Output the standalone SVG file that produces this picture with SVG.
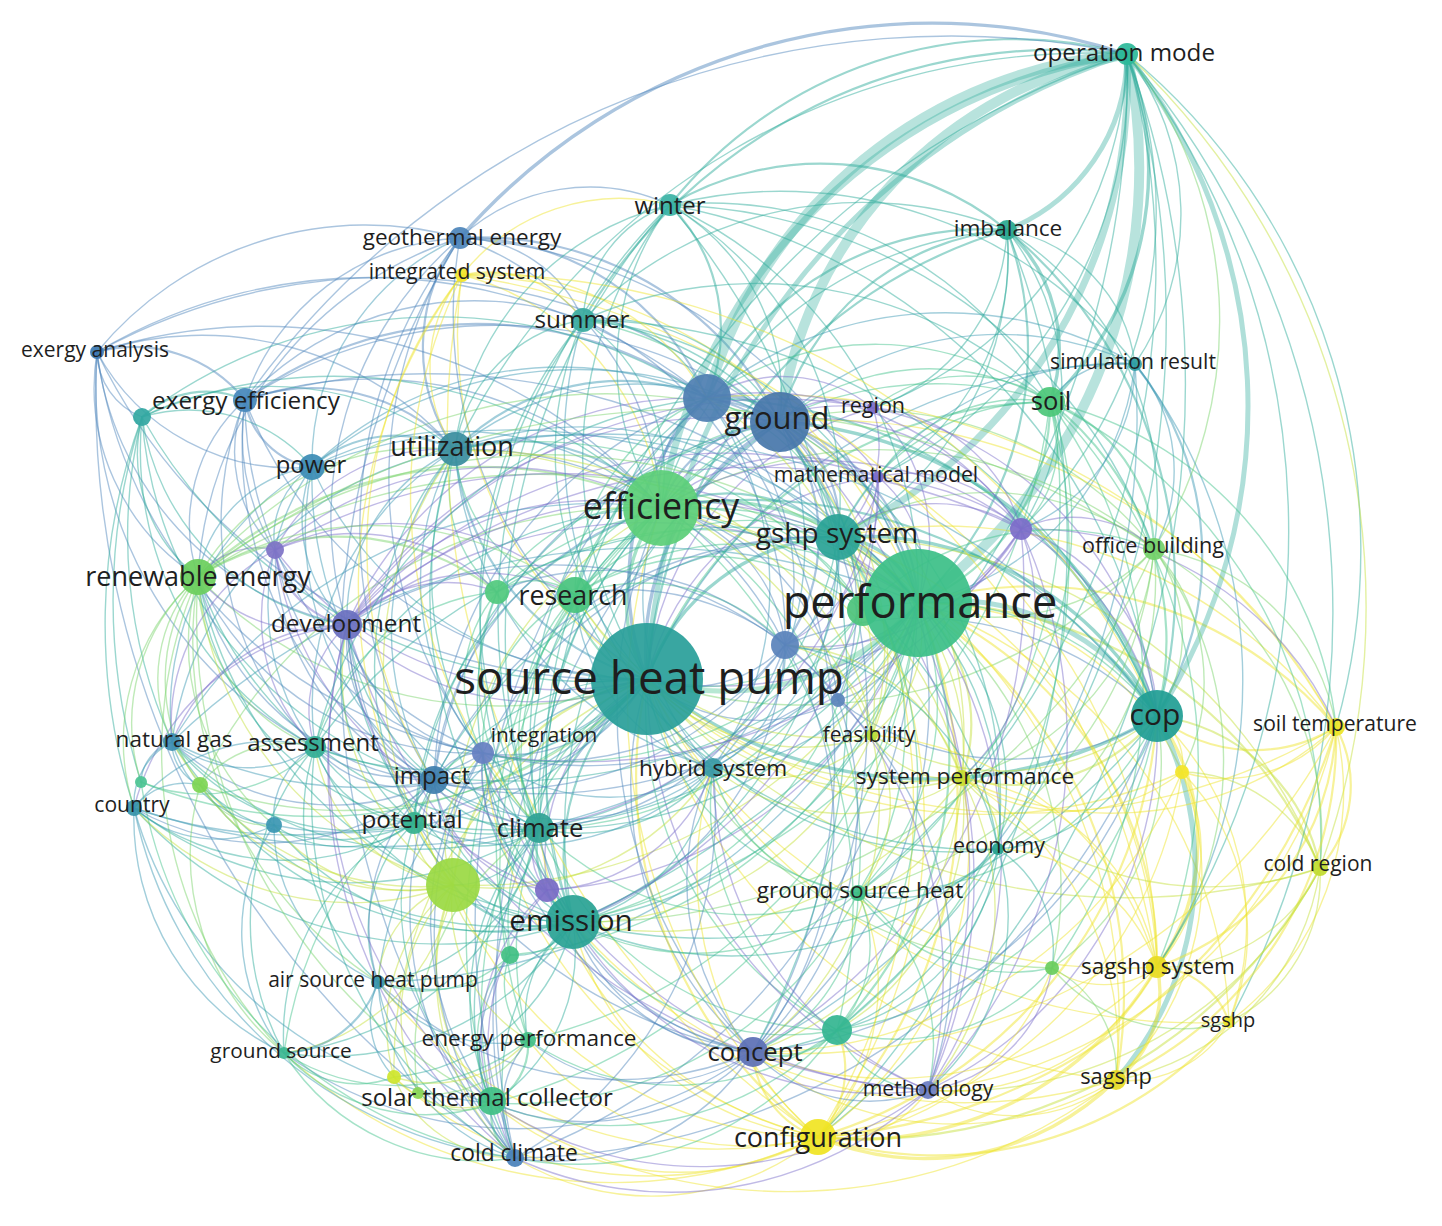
<svg xmlns="http://www.w3.org/2000/svg" width="1442" height="1226" viewBox="0 0 1442 1226">
<style>
.e path{fill:none;stroke-opacity:.48;stroke-width:1.4;stroke-linecap:round}
.p{stroke:#7b6fca}.b{stroke:#4f86bd}.c{stroke:#3d98b3}.t{stroke:#2eac9b}.g{stroke:#43c38b}.l{stroke:#7ad46a}.y{stroke:#c4df3a}.yw{stroke:#efe42c}
.e .s2{stroke-width:2.2}.e .s3{stroke-width:3.4}.e .s4{stroke-width:5;stroke-opacity:.38}.e .s6{stroke-width:7;stroke-opacity:.36}.e .s8{stroke-width:10;stroke-opacity:.34}
.n circle{fill-opacity:.93}
.n text{font-family:"Open Sans","Liberation Sans",sans-serif;fill:#1e1e1e;text-anchor:middle}
</style>
<rect width="1442" height="1226" fill="#ffffff"/>
<g id="connectors" class="e">
<path class="g s4" d="M918 603A256 256 0 0 1 647 679"/>
<path class="g s3" d="M647 679A150 150 0 0 1 661 508"/>
<path class="b s3" d="M647 679A264 264 0 0 1 780 422"/>
<path class="b s3" d="M647 679A259 259 0 0 1 707 398"/>
<path class="t s3" d="M647 679A211 211 0 0 1 838 537"/>
<path class="t s3" d="M1157 716A446 446 0 0 1 647 679"/>
<path class="t s2" d="M573 922A232 232 0 0 1 647 679"/>
<path class="c s2" d="M647 679A262 262 0 0 1 455 450"/>
<path class="g s2" d="M647 679A96 96 0 0 1 575 595"/>
<path class="g" d="M647 679A157 157 0 0 1 497 592"/>
<path class="p" d="M647 679A274 274 0 0 1 347 625"/>
<path class="l" d="M647 679A417 417 0 0 1 198 577"/>
<path class="c" d="M647 679A357 357 0 0 1 312 467"/>
<path class="b" d="M647 679A437 437 0 0 1 245 400"/>
<path class="b" d="M647 679A579 579 0 0 1 97 352"/>
<path class="t" d="M647 679A519 519 0 0 1 142 417"/>
<path class="b" d="M647 679A439 439 0 0 1 460 238"/>
<path class="yw" d="M647 679A406 406 0 0 1 462 275"/>
<path class="t" d="M647 679A327 327 0 0 1 583 320"/>
<path class="t" d="M647 679A411 411 0 0 1 670 205"/>
<path class="t s4" d="M647 679A694 694 0 0 1 1127 54"/>
<path class="t s2" d="M647 679A504 504 0 0 1 1007 230"/>
<path class="p" d="M647 679A307 307 0 0 1 873 408"/>
<path class="p" d="M647 679A265 265 0 0 1 878 477"/>
<path class="g s2" d="M647 679A437 437 0 0 1 1050 402"/>
<path class="c" d="M647 679A522 522 0 0 1 1135 364"/>
<path class="p" d="M1021 529A369 369 0 0 1 647 679"/>
<path class="l" d="M1154 549A475 475 0 0 1 647 679"/>
<path class="g" d="M863 610A207 207 0 0 1 647 679"/>
<path class="b" d="M785 645A129 129 0 0 1 647 679"/>
<path class="b" d="M838 700A169 169 0 0 1 647 679"/>
<path class="yw" d="M1336 727A602 602 0 0 1 647 679"/>
<path class="y" d="M872 735A210 210 0 0 1 647 679"/>
<path class="y" d="M962 778A302 302 0 0 1 647 679"/>
<path class="yw" d="M1182 772A486 486 0 0 1 647 679"/>
<path class="c" d="M713 768A98 98 0 0 1 647 679"/>
<path class="t" d="M998 849A356 356 0 0 1 647 679"/>
<path class="y" d="M1320 868A637 637 0 0 1 647 679"/>
<path class="g" d="M858 893A253 253 0 0 1 647 679"/>
<path class="yw" d="M1157 967A531 531 0 0 1 647 679"/>
<path class="l" d="M1052 968A443 443 0 0 1 647 679"/>
<path class="yw" d="M1229 1022A611 611 0 0 1 647 679"/>
<path class="g" d="M837 1030A363 363 0 0 1 647 679"/>
<path class="b" d="M753 1052A353 353 0 0 1 647 679"/>
<path class="p" d="M928 1090A445 445 0 0 1 647 679"/>
<path class="yw" d="M1116 1080A535 535 0 0 1 647 679"/>
<path class="yw s2" d="M818 1137A447 447 0 0 1 647 679"/>
<path class="b" d="M515 1158A452 452 0 0 1 647 679"/>
<path class="g" d="M492 1103A413 413 0 0 1 647 679"/>
<path class="g" d="M528 1040A348 348 0 0 1 647 679"/>
<path class="g" d="M510 955A281 281 0 0 1 647 679"/>
<path class="p" d="M547 890A213 213 0 0 1 647 679"/>
<path class="y s2" d="M453 885A241 241 0 0 1 647 679"/>
<path class="t" d="M539 828A163 163 0 0 1 647 679"/>
<path class="t" d="M414 823A247 247 0 0 1 647 679"/>
<path class="b" d="M647 679A216 216 0 0 1 434 782"/>
<path class="b" d="M647 679A165 165 0 0 1 483 753"/>
<path class="t" d="M647 679A305 305 0 0 1 315 747"/>
<path class="c" d="M647 679A425 425 0 0 1 172 742"/>
<path class="c" d="M647 679A480 480 0 0 1 134 808"/>
<path class="c" d="M647 679A366 366 0 0 1 274 825"/>
<path class="l" d="M647 679A416 416 0 0 1 200 785"/>
<path class="c" d="M378 982A349 349 0 0 1 647 679"/>
<path class="g" d="M284 1053A441 441 0 0 1 647 679"/>
<path class="y" d="M394 1077A424 424 0 0 1 647 679"/>
<path class="p" d="M647 679A360 360 0 0 1 275 550"/>
<path class="g" d="M647 679A465 465 0 0 1 141 782"/>
<path class="g s3" d="M661 508A251 251 0 0 1 918 603"/>
<path class="b s2" d="M780 422A201 201 0 0 1 918 603"/>
<path class="b s2" d="M707 398A249 249 0 0 1 918 603"/>
<path class="t s3" d="M838 537A90 90 0 0 1 918 603"/>
<path class="t s4" d="M918 603A241 241 0 0 1 1157 716"/>
<path class="t s8" d="M1127 54A538 538 0 0 1 918 603"/>
<path class="t s2" d="M1007 230A348 348 0 0 1 918 603"/>
<path class="g s2" d="M1050 402A216 216 0 0 1 918 603"/>
<path class="c" d="M1135 364A277 277 0 0 1 918 603"/>
<path class="p" d="M873 408A181 181 0 0 1 918 603"/>
<path class="p" d="M878 477A121 121 0 0 1 918 603"/>
<path class="p" d="M1021 529A113 113 0 0 1 918 603"/>
<path class="l" d="M1154 549A219 219 0 0 1 918 603"/>
<path class="b" d="M918 603A128 128 0 0 1 785 645"/>
<path class="b" d="M918 603A110 110 0 0 1 838 700"/>
<path class="yw s2" d="M918 603A398 398 0 0 1 1336 727"/>
<path class="y" d="M918 603A128 128 0 0 1 872 735"/>
<path class="y s2" d="M918 603A164 164 0 0 1 962 778"/>
<path class="yw" d="M918 603A282 282 0 0 1 1182 772"/>
<path class="c" d="M918 603A230 230 0 0 1 713 768"/>
<path class="t" d="M918 603A236 236 0 0 1 998 849"/>
<path class="y s2" d="M918 603A432 432 0 0 1 1320 868"/>
<path class="g" d="M918 603A267 267 0 0 1 858 893"/>
<path class="yw s2" d="M918 603A391 391 0 0 1 1157 967"/>
<path class="l" d="M918 603A356 356 0 0 1 1052 968"/>
<path class="yw" d="M918 603A462 462 0 0 1 1229 1022"/>
<path class="g s2" d="M918 603A390 390 0 0 1 837 1030"/>
<path class="b" d="M918 603A438 438 0 0 1 753 1052"/>
<path class="p" d="M918 603A417 417 0 0 1 928 1090"/>
<path class="yw s2" d="M918 603A473 473 0 0 1 1116 1080"/>
<path class="yw s2" d="M918 603A488 488 0 0 1 818 1137"/>
<path class="t" d="M918 603A402 402 0 0 1 573 922"/>
<path class="t" d="M918 603A399 399 0 0 1 539 828"/>
<path class="b" d="M918 603A609 609 0 0 1 515 1158"/>
<path class="g" d="M918 603A570 570 0 0 1 492 1103"/>
<path class="g" d="M918 603A504 504 0 0 1 528 1040"/>
<path class="y" d="M918 603A491 491 0 0 1 453 885"/>
<path class="b" d="M918 603A473 473 0 0 1 434 782"/>
<path class="b" d="M918 603A421 421 0 0 1 483 753"/>
<path class="t" d="M918 603A503 503 0 0 1 414 823"/>
<path class="g" d="M575 595A294 294 0 0 1 918 603"/>
<path class="g" d="M497 592A361 361 0 0 1 918 603"/>
<path class="c" d="M455 450A445 445 0 0 1 918 603"/>
<path class="t" d="M583 320A381 381 0 0 1 918 603"/>
<path class="t" d="M670 205A422 422 0 0 1 918 603"/>
<path class="b" d="M460 238A513 513 0 0 1 918 603"/>
<path class="yw" d="M462 275A499 499 0 0 1 918 603"/>
<path class="p" d="M347 625A493 493 0 0 1 918 603"/>
<path class="l" d="M198 577A620 620 0 0 1 918 603"/>
<path class="b" d="M245 400A641 641 0 0 1 918 603"/>
<path class="c" d="M312 467A561 561 0 0 1 918 603"/>
<path class="t" d="M918 603A562 562 0 0 1 315 747"/>
<path class="c" d="M172 742A682 682 0 0 1 918 603"/>
<path class="c" d="M918 603A736 736 0 0 1 134 808"/>
<path class="p" d="M275 550A564 564 0 0 1 918 603"/>
<path class="c" d="M918 603A588 588 0 0 1 378 982"/>
<path class="g" d="M918 603A467 467 0 0 1 510 955"/>
<path class="p" d="M918 603A413 413 0 0 1 547 890"/>
<path class="b s2" d="M661 508A130 130 0 0 1 780 422"/>
<path class="b s2" d="M661 508A109 109 0 0 1 707 398"/>
<path class="t s2" d="M661 508A161 161 0 0 1 838 537"/>
<path class="t s2" d="M661 508A492 492 0 0 1 1157 716"/>
<path class="t s6" d="M661 508A551 551 0 0 1 1127 54"/>
<path class="t" d="M661 508A388 388 0 0 1 1007 230"/>
<path class="g" d="M661 508A366 366 0 0 1 1050 402"/>
<path class="c s2" d="M455 450A195 195 0 0 1 661 508"/>
<path class="l s2" d="M198 577A417 417 0 0 1 661 508"/>
<path class="g" d="M575 595A103 103 0 0 1 661 508"/>
<path class="g" d="M497 592A168 168 0 0 1 661 508"/>
<path class="p" d="M347 625A307 307 0 0 1 661 508"/>
<path class="c" d="M312 467A310 310 0 0 1 661 508"/>
<path class="b" d="M245 400A390 390 0 0 1 661 508"/>
<path class="b" d="M97 352A532 532 0 0 1 661 508"/>
<path class="t" d="M142 417A472 472 0 0 1 661 508"/>
<path class="b" d="M460 238A298 298 0 0 1 661 508"/>
<path class="yw" d="M462 275A266 266 0 0 1 661 508"/>
<path class="t" d="M583 320A186 186 0 0 1 661 508"/>
<path class="t" d="M661 508A261 261 0 0 1 670 205"/>
<path class="t" d="M573 922A382 382 0 0 1 661 508"/>
<path class="t" d="M539 828A314 314 0 0 1 661 508"/>
<path class="y" d="M453 885A391 391 0 0 1 661 508"/>
<path class="t" d="M414 823A352 352 0 0 1 661 508"/>
<path class="b" d="M434 782A310 310 0 0 1 661 508"/>
<path class="t" d="M315 747A376 376 0 0 1 661 508"/>
<path class="c" d="M172 742A496 496 0 0 1 661 508"/>
<path class="c" d="M713 768A239 239 0 0 1 661 508"/>
<path class="y" d="M661 508A264 264 0 0 1 872 735"/>
<path class="y" d="M661 508A348 348 0 0 1 962 778"/>
<path class="t" d="M661 508A405 405 0 0 1 998 849"/>
<path class="l" d="M661 508A433 433 0 0 1 1154 549"/>
<path class="p" d="M661 508A313 313 0 0 1 1021 529"/>
<path class="p" d="M661 508A214 214 0 0 1 873 408"/>
<path class="p" d="M661 508A195 195 0 0 1 878 477"/>
<path class="b" d="M753 1052A494 494 0 0 1 661 508"/>
<path class="g" d="M492 1103A564 564 0 0 1 661 508"/>
<path class="g" d="M528 1040A497 497 0 0 1 661 508"/>
<path class="g" d="M661 508A394 394 0 0 1 858 893"/>
<path class="g" d="M661 508A503 503 0 0 1 837 1030"/>
<path class="yw" d="M818 1137A588 588 0 0 1 661 508"/>
<path class="p" d="M275 550A343 343 0 0 1 661 508"/>
<path class="l" d="M200 785A486 486 0 0 1 661 508"/>
<path class="g" d="M510 955A431 431 0 0 1 661 508"/>
<path class="b s3" d="M707 398A71 71 0 0 1 780 422"/>
<path class="t s8" d="M780 422A431 431 0 0 1 1127 54"/>
<path class="b s2" d="M780 422A117 117 0 0 1 838 537"/>
<path class="t s3" d="M780 422A421 421 0 0 1 1157 716"/>
<path class="t s2" d="M780 422A258 258 0 0 1 1007 230"/>
<path class="g" d="M780 422A236 236 0 0 1 1050 402"/>
<path class="c" d="M780 422A321 321 0 0 1 1135 364"/>
<path class="p" d="M780 422A84 84 0 0 1 873 408"/>
<path class="p" d="M780 422A102 102 0 0 1 878 477"/>
<path class="t" d="M670 205A222 222 0 0 1 780 422"/>
<path class="t" d="M583 320A202 202 0 0 1 780 422"/>
<path class="b s2" d="M460 238A335 335 0 0 1 780 422"/>
<path class="c" d="M455 450A286 286 0 0 1 780 422"/>
<path class="c" d="M312 467A413 413 0 0 1 780 422"/>
<path class="b" d="M245 400A462 462 0 0 1 780 422"/>
<path class="b" d="M97 352A604 604 0 0 1 780 422"/>
<path class="p" d="M780 422A241 241 0 0 1 1021 529"/>
<path class="l" d="M780 422A361 361 0 0 1 1154 549"/>
<path class="yw" d="M780 422A576 576 0 0 1 1336 727"/>
<path class="y" d="M780 422A365 365 0 0 1 962 778"/>
<path class="yw" d="M780 422A620 620 0 0 1 818 1137"/>
<path class="b" d="M780 422A545 545 0 0 1 753 1052"/>
<path class="t" d="M573 922A496 496 0 0 1 780 422"/>
<path class="t" d="M539 828A427 427 0 0 1 780 422"/>
<path class="p" d="M347 625A437 437 0 0 1 780 422"/>
<path class="l" d="M198 577A547 547 0 0 1 780 422"/>
<path class="c" d="M780 422A317 317 0 0 1 713 768"/>
<path class="p" d="M780 422A618 618 0 0 1 928 1090"/>
<path class="yw" d="M780 422A592 592 0 0 1 1157 967"/>
<path class="b" d="M515 1158A716 716 0 0 1 780 422"/>
<path class="t" d="M780 422A437 437 0 0 1 998 849"/>
<path class="b" d="M434 782A423 423 0 0 1 780 422"/>
<path class="g" d="M575 595A233 233 0 0 1 780 422"/>
<path class="t s8" d="M707 398A474 474 0 0 1 1127 54"/>
<path class="b s2" d="M707 398A162 162 0 0 1 838 537"/>
<path class="t s2" d="M707 398A490 490 0 0 1 1157 716"/>
<path class="t s2" d="M707 398A312 312 0 0 1 1007 230"/>
<path class="g" d="M707 398A292 292 0 0 1 1050 402"/>
<path class="t s2" d="M670 205A177 177 0 0 1 707 398"/>
<path class="t" d="M583 320A132 132 0 0 1 707 398"/>
<path class="b s2" d="M460 238A264 264 0 0 1 707 398"/>
<path class="yw" d="M462 275A250 250 0 0 1 707 398"/>
<path class="c s2" d="M455 450A232 232 0 0 1 707 398"/>
<path class="c" d="M312 467A360 360 0 0 1 707 398"/>
<path class="b s2" d="M245 400A393 393 0 0 1 707 398"/>
<path class="b" d="M97 352A534 534 0 0 1 707 398"/>
<path class="t" d="M142 417A487 487 0 0 1 707 398"/>
<path class="t" d="M573 922A491 491 0 0 1 707 398"/>
<path class="t" d="M539 828A422 422 0 0 1 707 398"/>
<path class="p" d="M347 625A383 383 0 0 1 707 398"/>
<path class="c" d="M707 398A376 376 0 0 1 1135 364"/>
<path class="yw" d="M707 398A647 647 0 0 1 1336 727"/>
<path class="b" d="M707 398A571 571 0 0 1 753 1052"/>
<path class="p" d="M707 398A311 311 0 0 1 1021 529"/>
<path class="b" d="M515 1158A711 711 0 0 1 707 398"/>
<path class="c" d="M707 398A316 316 0 0 1 713 768"/>
<path class="b" d="M434 782A419 419 0 0 1 707 398"/>
<path class="p" d="M707 398A145 145 0 0 1 873 408"/>
<path class="t s6" d="M1127 54A509 509 0 0 1 838 537"/>
<path class="t s3" d="M838 537A332 332 0 0 1 1157 716"/>
<path class="t" d="M1007 230A319 319 0 0 1 838 537"/>
<path class="g" d="M838 537A226 226 0 0 1 1050 402"/>
<path class="c" d="M838 537A311 311 0 0 1 1135 364"/>
<path class="p" d="M873 408A122 122 0 0 1 838 537"/>
<path class="p" d="M878 477A65 65 0 0 1 838 537"/>
<path class="p" d="M838 537A158 158 0 0 1 1021 529"/>
<path class="l" d="M838 537A273 273 0 0 1 1154 549"/>
<path class="yw" d="M838 537A488 488 0 0 1 1336 727"/>
<path class="y" d="M838 537A247 247 0 0 1 962 778"/>
<path class="t" d="M838 537A320 320 0 0 1 998 849"/>
<path class="yw" d="M838 537A474 474 0 0 1 1157 967"/>
<path class="yw" d="M838 537A556 556 0 0 1 1116 1080"/>
<path class="yw" d="M838 537A517 517 0 0 1 818 1137"/>
<path class="g" d="M838 537A419 419 0 0 1 837 1030"/>
<path class="p" d="M838 537A501 501 0 0 1 928 1090"/>
<path class="g" d="M838 537A309 309 0 0 1 858 893"/>
<path class="t" d="M670 205A339 339 0 0 1 838 537"/>
<path class="t" d="M583 320A291 291 0 0 1 838 537"/>
<path class="c" d="M455 450A355 355 0 0 1 838 537"/>
<path class="t" d="M838 537A417 417 0 0 1 573 922"/>
<path class="t" d="M838 537A353 353 0 0 1 539 828"/>
<path class="b" d="M838 537A110 110 0 0 1 785 645"/>
<path class="y" d="M838 537A180 180 0 0 1 872 735"/>
<path class="y" d="M838 537A522 522 0 0 1 1320 868"/>
<path class="t s4" d="M1127 54A573 573 0 0 1 1157 716"/>
<path class="t s2" d="M1007 230A464 464 0 0 1 1157 716"/>
<path class="g s2" d="M1050 402A303 303 0 0 1 1157 716"/>
<path class="c s2" d="M1135 364A307 307 0 0 1 1157 716"/>
<path class="p" d="M1021 529A205 205 0 0 1 1157 716"/>
<path class="l" d="M1154 549A143 143 0 0 1 1157 716"/>
<path class="yw s2" d="M1336 727A156 156 0 0 1 1157 716"/>
<path class="yw" d="M1157 716A56 56 0 0 1 1182 772"/>
<path class="y s2" d="M1157 716A190 190 0 0 1 1320 868"/>
<path class="yw s3" d="M1157 716A213 213 0 0 1 1157 967"/>
<path class="yw" d="M1157 716A285 285 0 0 1 1229 1022"/>
<path class="t s4" d="M1157 716A323 323 0 0 1 1116 1080"/>
<path class="yw s2" d="M1157 716A473 473 0 0 1 818 1137"/>
<path class="p" d="M1157 716A396 396 0 0 1 928 1090"/>
<path class="g" d="M1157 716A379 379 0 0 1 837 1030"/>
<path class="g" d="M1157 716A315 315 0 0 1 858 893"/>
<path class="t" d="M1157 716A180 180 0 0 1 998 849"/>
<path class="y s2" d="M1157 716A187 187 0 0 1 962 778"/>
<path class="y" d="M1157 716A249 249 0 0 1 872 735"/>
<path class="b" d="M1157 716A276 276 0 0 1 838 700"/>
<path class="b" d="M785 645A340 340 0 0 1 1157 716"/>
<path class="l" d="M1157 716A250 250 0 0 1 1052 968"/>
<path class="t" d="M670 205A600 600 0 0 1 1157 716"/>
<path class="t" d="M583 320A622 622 0 0 1 1157 716"/>
<path class="c" d="M455 450A687 687 0 0 1 1157 716"/>
<path class="b" d="M1157 716A457 457 0 0 1 753 1052"/>
<path class="t" d="M1157 716A566 566 0 0 1 573 922"/>
<path class="p" d="M873 408A359 359 0 0 1 1157 716"/>
<path class="p" d="M878 477A319 319 0 0 1 1157 716"/>
<path class="b" d="M1157 716A696 696 0 0 1 515 1158"/>
<path class="t s4" d="M1127 54A190 190 0 0 1 1007 230"/>
<path class="t s3" d="M1127 54A322 322 0 0 1 1050 402"/>
<path class="t" d="M1127 54A266 266 0 0 1 1135 364"/>
<path class="t s2" d="M670 205A439 439 0 0 1 1127 54"/>
<path class="b s3" d="M460 238A627 627 0 0 1 1127 54"/>
<path class="t s2" d="M583 320A553 553 0 0 1 1127 54"/>
<path class="t" d="M455 450A706 706 0 0 1 1127 54"/>
<path class="t" d="M1127 54A388 388 0 0 1 873 408"/>
<path class="t" d="M1127 54A445 445 0 0 1 878 477"/>
<path class="t" d="M1127 54A440 440 0 0 1 1021 529"/>
<path class="l" d="M1127 54A430 430 0 0 1 1154 549"/>
<path class="t" d="M1127 54A643 643 0 0 1 1336 727"/>
<path class="t" d="M1127 54A957 957 0 0 1 818 1137"/>
<path class="t" d="M1127 54A860 860 0 0 1 1229 1022"/>
<path class="t" d="M1127 54A805 805 0 0 1 858 893"/>
<path class="t" d="M1127 54A928 928 0 0 1 837 1030"/>
<path class="t" d="M1127 54A786 786 0 0 1 1157 967"/>
<path class="t" d="M1127 54A926 926 0 0 1 573 922"/>
<path class="t" d="M539 828A858 858 0 0 1 1127 54"/>
<path class="b" d="M245 400A867 867 0 0 1 1127 54"/>
<path class="y" d="M1127 54A760 760 0 0 1 1320 868"/>
<path class="b s2" d="M97 352A142 142 0 0 1 245 400"/>
<path class="b" d="M142 417A71 71 0 0 1 97 352"/>
<path class="b" d="M312 467A222 222 0 0 1 97 352"/>
<path class="b" d="M97 352A337 337 0 0 1 455 450"/>
<path class="b" d="M97 352A348 348 0 0 1 460 238"/>
<path class="b" d="M347 625A317 317 0 0 1 97 352"/>
<path class="b" d="M198 577A225 225 0 0 1 97 352"/>
<path class="b" d="M483 753A472 472 0 0 1 97 352"/>
<path class="b" d="M315 747A410 410 0 0 1 97 352"/>
<path class="b" d="M515 1158A900 900 0 0 1 97 352"/>
<path class="t s2" d="M142 417A94 94 0 0 1 245 400"/>
<path class="t" d="M142 417A162 162 0 0 1 312 467"/>
<path class="t" d="M198 577A155 155 0 0 1 142 417"/>
<path class="t" d="M172 742A500 500 0 0 1 142 417"/>
<path class="t" d="M134 808A600 600 0 0 1 142 417"/>
<path class="t" d="M347 625A247 247 0 0 1 142 417"/>
<path class="t" d="M142 417A294 294 0 0 1 455 450"/>
<path class="t" d="M315 747A339 339 0 0 1 142 417"/>
<path class="t" d="M141 782A600 600 0 0 1 142 417"/>
<path class="t" d="M434 782A410 410 0 0 1 142 417"/>
<path class="b s2" d="M312 467A80 80 0 0 1 245 400"/>
<path class="b s2" d="M245 400A196 196 0 0 1 455 450"/>
<path class="b" d="M347 625A226 226 0 0 1 245 400"/>
<path class="b" d="M275 550A138 138 0 0 1 245 400"/>
<path class="b" d="M198 577A167 167 0 0 1 245 400"/>
<path class="b" d="M245 400A238 238 0 0 1 460 238"/>
<path class="b" d="M483 753A381 381 0 0 1 245 400"/>
<path class="b" d="M434 782A389 389 0 0 1 245 400"/>
<path class="b" d="M315 747A319 319 0 0 1 245 400"/>
<path class="b" d="M245 400A315 315 0 0 1 583 320"/>
<path class="c s2" d="M312 467A128 128 0 0 1 455 450"/>
<path class="c" d="M347 625A146 146 0 0 1 312 467"/>
<path class="c" d="M198 577A134 134 0 0 1 312 467"/>
<path class="c" d="M275 550A83 83 0 0 1 312 467"/>
<path class="c" d="M434 782A309 309 0 0 1 312 467"/>
<path class="c" d="M315 747A238 238 0 0 1 312 467"/>
<path class="c" d="M172 742A281 281 0 0 1 312 467"/>
<path class="c" d="M312 467A245 245 0 0 1 460 238"/>
<path class="c" d="M539 828A384 384 0 0 1 312 467"/>
<path class="b s2" d="M455 450A180 180 0 0 1 460 238"/>
<path class="yw" d="M455 450A149 149 0 0 1 462 275"/>
<path class="t" d="M455 450A155 155 0 0 1 583 320"/>
<path class="t" d="M455 450A281 281 0 0 1 670 205"/>
<path class="c" d="M347 625A185 185 0 0 1 455 450"/>
<path class="l" d="M198 577A262 262 0 0 1 455 450"/>
<path class="g" d="M575 595A164 164 0 0 1 455 450"/>
<path class="g" d="M497 592A135 135 0 0 1 455 450"/>
<path class="c" d="M434 782A289 289 0 0 1 455 450"/>
<path class="c" d="M483 753A267 267 0 0 1 455 450"/>
<path class="c" d="M315 747A300 300 0 0 1 455 450"/>
<path class="t" d="M573 922A441 441 0 0 1 455 450"/>
<path class="t" d="M539 828A350 350 0 0 1 455 450"/>
<path class="t" d="M414 823A331 331 0 0 1 455 450"/>
<path class="y" d="M453 885A370 370 0 0 1 455 450"/>
<path class="c" d="M172 742A344 344 0 0 1 455 450"/>
<path class="p" d="M275 550A187 187 0 0 1 455 450"/>
<path class="b" d="M460 238A133 133 0 0 1 583 320"/>
<path class="b" d="M460 238A190 190 0 0 1 670 205"/>
<path class="b" d="M347 625A367 367 0 0 1 460 238"/>
<path class="b" d="M483 753A445 445 0 0 1 460 238"/>
<path class="b" d="M434 782A471 471 0 0 1 460 238"/>
<path class="b" d="M515 1158A801 801 0 0 1 460 238"/>
<path class="b" d="M198 577A377 377 0 0 1 460 238"/>
<path class="yw" d="M462 275A118 118 0 0 1 583 320"/>
<path class="yw" d="M462 275A200 200 0 0 1 670 205"/>
<path class="yw" d="M462 275A826 826 0 0 1 1157 967"/>
<path class="yw" d="M818 1137A853 853 0 0 1 462 275"/>
<path class="yw" d="M434 782A440 440 0 0 1 462 275"/>
<path class="yw" d="M453 885A519 519 0 0 1 462 275"/>
<path class="yw" d="M539 828A496 496 0 0 1 462 275"/>
<path class="yw" d="M462 275A740 740 0 0 1 1157 716"/>
<path class="t" d="M583 320A128 128 0 0 1 670 205"/>
<path class="t" d="M583 320A391 391 0 0 1 1007 230"/>
<path class="t" d="M539 828A447 447 0 0 1 583 320"/>
<path class="t" d="M573 922A512 512 0 0 1 583 320"/>
<path class="t" d="M583 320A425 425 0 0 1 1050 402"/>
<path class="t s2" d="M670 205A295 295 0 0 1 1007 230"/>
<path class="t" d="M670 205A390 390 0 0 1 1050 402"/>
<path class="t" d="M670 205A450 450 0 0 1 1135 364"/>
<path class="t" d="M539 828A574 574 0 0 1 670 205"/>
<path class="t" d="M573 922A643 643 0 0 1 670 205"/>
<path class="t" d="M670 205A748 748 0 0 1 753 1052"/>
<path class="t" d="M670 205A529 529 0 0 1 1154 549"/>
<path class="t s3" d="M1007 230A161 161 0 0 1 1050 402"/>
<path class="t" d="M1007 230A157 157 0 0 1 1135 364"/>
<path class="t" d="M1007 230A321 321 0 0 1 1154 549"/>
<path class="t" d="M1007 230A197 197 0 0 1 873 408"/>
<path class="t" d="M1007 230A254 254 0 0 1 878 477"/>
<path class="t" d="M1007 230A259 259 0 0 1 1021 529"/>
<path class="t" d="M1007 230A836 836 0 0 1 818 1137"/>
<path class="c" d="M1050 402A85 85 0 0 1 1135 364"/>
<path class="c" d="M1135 364A164 164 0 0 1 1154 549"/>
<path class="c" d="M1135 364A520 520 0 0 1 1157 967"/>
<path class="c" d="M1135 364A179 179 0 0 1 1021 529"/>
<path class="c" d="M1135 364A715 715 0 0 1 753 1052"/>
<path class="g s2" d="M1050 402A161 161 0 0 1 1154 549"/>
<path class="g" d="M1050 402A118 118 0 0 1 1021 529"/>
<path class="g" d="M873 408A150 150 0 0 1 1050 402"/>
<path class="g" d="M878 477A172 172 0 0 1 1050 402"/>
<path class="g" d="M1050 402A373 373 0 0 1 1336 727"/>
<path class="g" d="M1050 402A517 517 0 0 1 1157 967"/>
<path class="g" d="M1050 402A488 488 0 0 1 1320 868"/>
<path class="g" d="M1050 402A483 483 0 0 1 858 893"/>
<path class="g" d="M1050 402A606 606 0 0 1 837 1030"/>
<path class="g" d="M1050 402A604 604 0 0 1 573 922"/>
<path class="g" d="M1050 402A349 349 0 0 1 962 778"/>
<path class="g" d="M1050 402A481 481 0 0 1 1052 968"/>
<path class="p" d="M873 408A167 167 0 0 1 1021 529"/>
<path class="p" d="M347 625A521 521 0 0 1 873 408"/>
<path class="p" d="M878 477A139 139 0 0 1 1021 529"/>
<path class="p" d="M347 625A502 502 0 0 1 878 477"/>
<path class="p" d="M878 477A174 174 0 0 1 785 645"/>
<path class="p" d="M1021 529A120 120 0 0 1 1154 549"/>
<path class="p" d="M1021 529A335 335 0 0 1 1336 727"/>
<path class="p" d="M1021 529A536 536 0 0 1 753 1052"/>
<path class="p" d="M1021 529A508 508 0 0 1 928 1090"/>
<path class="p" d="M347 625A605 605 0 0 1 1021 529"/>
<path class="p" d="M1021 529A240 240 0 0 1 785 645"/>
<path class="p" d="M1021 529A534 534 0 0 1 483 753"/>
<path class="p" d="M1021 529A232 232 0 0 1 962 778"/>
<path class="l" d="M1154 549A215 215 0 0 1 1336 727"/>
<path class="l" d="M1154 549A327 327 0 0 1 1320 868"/>
<path class="l" d="M1154 549A355 355 0 0 1 1157 967"/>
<path class="l" d="M1154 549A260 260 0 0 1 962 778"/>
<path class="l" d="M1154 549A199 199 0 0 1 1182 772"/>
<path class="l" d="M1154 549A308 308 0 0 1 998 849"/>
<path class="l" d="M1154 549A393 393 0 0 1 858 893"/>
<path class="l" d="M198 577A822 822 0 0 1 1154 549"/>
<path class="l" d="M1154 549A621 621 0 0 1 573 922"/>
<path class="yw s2" d="M1336 727A125 125 0 0 1 1320 868"/>
<path class="yw s2" d="M1336 727A265 265 0 0 1 1157 967"/>
<path class="yw" d="M1336 727A287 287 0 0 1 1229 1022"/>
<path class="yw s2" d="M1336 727A375 375 0 0 1 1116 1080"/>
<path class="yw s2" d="M1336 727A580 580 0 0 1 818 1137"/>
<path class="yw" d="M1336 727A146 146 0 0 1 1182 772"/>
<path class="yw" d="M1336 727A335 335 0 0 1 962 778"/>
<path class="yw" d="M1336 727A470 470 0 0 1 928 1090"/>
<path class="yw" d="M1336 727A606 606 0 0 1 753 1052"/>
<path class="y" d="M1320 868A173 173 0 0 1 1157 967"/>
<path class="y" d="M1320 868A162 162 0 0 1 1229 1022"/>
<path class="y" d="M1320 868A250 250 0 0 1 1116 1080"/>
<path class="y s2" d="M1320 868A519 519 0 0 1 818 1137"/>
<path class="y" d="M1182 772A150 150 0 0 1 1320 868"/>
<path class="y" d="M1320 868A335 335 0 0 1 962 778"/>
<path class="y" d="M1320 868A409 409 0 0 1 928 1090"/>
<path class="yw s2" d="M1157 967A80 80 0 0 1 1229 1022"/>
<path class="yw s3" d="M1157 967A110 110 0 0 1 1116 1080"/>
<path class="yw s3" d="M1157 967A346 346 0 0 1 818 1137"/>
<path class="yw" d="M1182 772A174 174 0 0 1 1157 967"/>
<path class="yw" d="M962 778A230 230 0 0 1 1157 967"/>
<path class="yw" d="M1157 967A236 236 0 0 1 928 1090"/>
<path class="yw" d="M1157 967A89 89 0 0 1 1052 968"/>
<path class="yw" d="M1157 967A372 372 0 0 1 753 1052"/>
<path class="yw" d="M998 849A175 175 0 0 1 1157 967"/>
<path class="yw" d="M872 735A321 321 0 0 1 1157 967"/>
<path class="yw" d="M1229 1022A116 116 0 0 1 1116 1080"/>
<path class="yw s2" d="M1229 1022A388 388 0 0 1 818 1137"/>
<path class="yw" d="M1182 772A229 229 0 0 1 1229 1022"/>
<path class="yw s3" d="M1116 1080A273 273 0 0 1 818 1137"/>
<path class="yw" d="M1116 1080A160 160 0 0 1 928 1090"/>
<path class="yw" d="M1116 1080A318 318 0 0 1 753 1052"/>
<path class="yw" d="M1182 772A284 284 0 0 1 1116 1080"/>
<path class="yw" d="M962 778A309 309 0 0 1 1116 1080"/>
<path class="yw" d="M1116 1080A515 515 0 0 1 573 922"/>
<path class="yw" d="M1116 1080A538 538 0 0 1 492 1103"/>
<path class="yw" d="M928 1090A110 110 0 0 1 818 1137"/>
<path class="yw s2" d="M818 1137A94 94 0 0 1 753 1052"/>
<path class="yw s2" d="M837 1030A98 98 0 0 1 818 1137"/>
<path class="yw" d="M818 1137A289 289 0 0 1 492 1103"/>
<path class="yw" d="M818 1137A264 264 0 0 1 515 1158"/>
<path class="yw" d="M818 1137A281 281 0 0 1 573 922"/>
<path class="yw" d="M818 1137A280 280 0 0 1 528 1040"/>
<path class="yw" d="M818 1137A483 483 0 0 1 284 1053"/>
<path class="yw" d="M818 1137A381 381 0 0 1 394 1077"/>
<path class="yw" d="M818 1137A396 396 0 0 1 453 885"/>
<path class="yw" d="M818 1137A358 358 0 0 1 539 828"/>
<path class="yw" d="M962 778A354 354 0 0 1 818 1137"/>
<path class="yw" d="M858 893A221 221 0 0 1 818 1137"/>
<path class="yw" d="M818 1137A349 349 0 0 1 713 768"/>
<path class="yw" d="M1182 772A434 434 0 0 1 818 1137"/>
<path class="yw" d="M818 1137A427 427 0 0 1 378 982"/>
<path class="yw" d="M1052 968A257 257 0 0 1 818 1137"/>
<path class="yw" d="M818 1137A440 440 0 0 1 483 753"/>
<path class="yw" d="M1182 772A187 187 0 0 1 962 778"/>
<path class="yw" d="M1182 772A460 460 0 0 1 753 1052"/>
<path class="y" d="M962 778A91 91 0 0 1 872 735"/>
<path class="y" d="M962 778A72 72 0 0 1 998 849"/>
<path class="y" d="M962 778A133 133 0 0 1 858 893"/>
<path class="y" d="M962 778A304 304 0 0 1 753 1052"/>
<path class="y" d="M962 778A380 380 0 0 1 573 922"/>
<path class="y" d="M785 645A196 196 0 0 1 962 778"/>
<path class="y" d="M962 778A212 212 0 0 1 713 768"/>
<path class="y" d="M962 778A257 257 0 0 1 837 1030"/>
<path class="y" d="M962 778A277 277 0 0 1 928 1090"/>
<path class="y" d="M785 645A106 106 0 0 1 872 735"/>
<path class="y" d="M872 735A146 146 0 0 1 713 768"/>
<path class="y" d="M872 735A139 139 0 0 1 858 893"/>
<path class="y" d="M872 735A310 310 0 0 1 753 1052"/>
<path class="y" d="M872 735A318 318 0 0 1 573 922"/>
<path class="t" d="M998 849A134 134 0 0 1 858 893"/>
<path class="t" d="M998 849A120 120 0 0 1 1052 968"/>
<path class="t" d="M998 849A208 208 0 0 1 837 1030"/>
<path class="t" d="M998 849A277 277 0 0 1 753 1052"/>
<path class="t" d="M998 849A386 386 0 0 1 573 922"/>
<path class="t" d="M998 849A229 229 0 0 1 928 1090"/>
<path class="t" d="M785 645A251 251 0 0 1 998 849"/>
<path class="g" d="M858 893A123 123 0 0 1 837 1030"/>
<path class="g" d="M858 893A171 171 0 0 1 753 1052"/>
<path class="g" d="M858 893A252 252 0 0 1 573 922"/>
<path class="g" d="M858 893A166 166 0 0 1 713 768"/>
<path class="g" d="M858 893A191 191 0 0 1 928 1090"/>
<path class="g" d="M1052 968A190 190 0 0 1 858 893"/>
<path class="g" d="M858 893A293 293 0 0 1 539 828"/>
<path class="g" d="M858 893A383 383 0 0 1 492 1103"/>
<path class="g s2" d="M837 1030A79 79 0 0 1 753 1052"/>
<path class="g" d="M928 1090A98 98 0 0 1 837 1030"/>
<path class="g" d="M837 1030A261 261 0 0 1 573 922"/>
<path class="g" d="M837 1030A318 318 0 0 1 492 1103"/>
<path class="g" d="M837 1030A317 317 0 0 1 515 1158"/>
<path class="g" d="M837 1030A265 265 0 0 1 713 768"/>
<path class="g" d="M1052 968A204 204 0 0 1 837 1030"/>
<path class="g" d="M837 1030A322 322 0 0 1 539 828"/>
<path class="g" d="M837 1030A263 263 0 0 1 528 1040"/>
<path class="b" d="M928 1090A162 162 0 0 1 753 1052"/>
<path class="b" d="M753 1052A197 197 0 0 1 573 922"/>
<path class="b" d="M753 1052A239 239 0 0 1 492 1103"/>
<path class="b" d="M753 1052A238 238 0 0 1 515 1158"/>
<path class="b" d="M753 1052A255 255 0 0 1 713 768"/>
<path class="b" d="M753 1052A263 263 0 0 1 539 828"/>
<path class="b" d="M753 1052A346 346 0 0 1 483 753"/>
<path class="b" d="M753 1052A191 191 0 0 1 528 1040"/>
<path class="b" d="M753 1052A501 501 0 0 1 347 625"/>
<path class="b" d="M753 1052A343 343 0 0 1 378 982"/>
<path class="b" d="M753 1052A399 399 0 0 1 284 1053"/>
<path class="b" d="M753 1052A230 230 0 0 1 547 890"/>
<path class="p" d="M928 1090A359 359 0 0 1 573 922"/>
<path class="p" d="M928 1090A374 374 0 0 1 515 1158"/>
<path class="p" d="M928 1090A375 375 0 0 1 492 1103"/>
<path class="p" d="M928 1090A652 652 0 0 1 347 625"/>
<path class="p" d="M928 1090A493 493 0 0 1 483 753"/>
<path class="p" d="M785 645A427 427 0 0 1 928 1090"/>
<path class="p" d="M1052 968A147 147 0 0 1 928 1090"/>
<path class="p" d="M928 1090A347 347 0 0 1 713 768"/>
<path class="t s2" d="M573 922A92 92 0 0 1 539 828"/>
<path class="t s2" d="M573 922A115 115 0 0 1 453 885"/>
<path class="t" d="M573 922A65 65 0 0 1 510 955"/>
<path class="t" d="M573 922A181 181 0 0 1 492 1103"/>
<path class="t" d="M528 1040A116 116 0 0 1 573 922"/>
<path class="t" d="M515 1158A220 220 0 0 1 573 922"/>
<path class="t" d="M573 922A169 169 0 0 1 414 823"/>
<path class="t" d="M573 922A167 167 0 0 1 434 782"/>
<path class="t" d="M573 922A174 174 0 0 1 483 753"/>
<path class="t" d="M573 922A279 279 0 0 1 315 747"/>
<path class="t" d="M573 922A402 402 0 0 1 172 742"/>
<path class="t" d="M573 922A412 412 0 0 1 134 808"/>
<path class="t" d="M573 922A186 186 0 0 1 378 982"/>
<path class="t" d="M573 922A290 290 0 0 1 284 1053"/>
<path class="t" d="M713 768A179 179 0 0 1 573 922"/>
<path class="t" d="M573 922A329 329 0 0 1 347 625"/>
<path class="t" d="M573 922A436 436 0 0 1 198 577"/>
<path class="t" d="M573 922A287 287 0 0 1 274 825"/>
<path class="t" d="M573 922A364 364 0 0 1 200 785"/>
<path class="t" d="M573 922A205 205 0 0 1 394 1077"/>
<path class="t" d="M539 828A106 106 0 0 1 414 823"/>
<path class="t" d="M539 828A105 105 0 0 1 434 782"/>
<path class="t" d="M539 828A82 82 0 0 1 483 753"/>
<path class="t" d="M539 828A93 93 0 0 1 453 885"/>
<path class="t" d="M539 828A218 218 0 0 1 315 747"/>
<path class="t" d="M539 828A341 341 0 0 1 172 742"/>
<path class="t" d="M515 1158A289 289 0 0 1 539 828"/>
<path class="t" d="M492 1103A250 250 0 0 1 539 828"/>
<path class="t" d="M713 768A168 168 0 0 1 539 828"/>
<path class="t" d="M539 828A238 238 0 0 1 347 625"/>
<path class="t" d="M539 828A375 375 0 0 1 198 577"/>
<path class="t" d="M539 828A190 190 0 0 1 378 982"/>
<path class="t" d="M539 828A293 293 0 0 1 284 1053"/>
<path class="t" d="M539 828A351 351 0 0 1 134 808"/>
<path class="y" d="M453 885A66 66 0 0 1 414 823"/>
<path class="y" d="M453 885A94 94 0 0 1 434 782"/>
<path class="y" d="M453 885A164 164 0 0 1 315 747"/>
<path class="y" d="M453 885A287 287 0 0 1 172 742"/>
<path class="y" d="M453 885A249 249 0 0 1 200 785"/>
<path class="y" d="M453 885A298 298 0 0 1 134 808"/>
<path class="y" d="M453 885A349 349 0 0 1 198 577"/>
<path class="y" d="M378 982A108 108 0 0 1 453 885"/>
<path class="y" d="M453 885A201 201 0 0 1 284 1053"/>
<path class="y" d="M394 1077A184 184 0 0 1 453 885"/>
<path class="y" d="M492 1103A199 199 0 0 1 453 885"/>
<path class="y" d="M528 1040A157 157 0 0 1 453 885"/>
<path class="y" d="M515 1158A253 253 0 0 1 453 885"/>
<path class="y" d="M510 955A79 79 0 0 1 453 885"/>
<path class="y" d="M713 768A261 261 0 0 1 453 885"/>
<path class="y" d="M453 885A257 257 0 0 1 347 625"/>
<path class="y" d="M453 885A122 122 0 0 1 483 753"/>
<path class="y" d="M453 885A173 173 0 0 1 274 825"/>
<path class="y" d="M418 1093A189 189 0 0 1 453 885"/>
<path class="t" d="M414 823A42 42 0 0 1 434 782"/>
<path class="t" d="M414 823A110 110 0 0 1 315 747"/>
<path class="t" d="M414 823A233 233 0 0 1 172 742"/>
<path class="t" d="M414 823A243 243 0 0 1 134 808"/>
<path class="t" d="M414 823A119 119 0 0 1 274 825"/>
<path class="t" d="M414 823A195 195 0 0 1 200 785"/>
<path class="t" d="M414 823A282 282 0 0 1 198 577"/>
<path class="t" d="M378 982A147 147 0 0 1 414 823"/>
<path class="t" d="M284 1053A240 240 0 0 1 414 823"/>
<path class="t" d="M492 1103A264 264 0 0 1 414 823"/>
<path class="t" d="M414 823A191 191 0 0 1 347 625"/>
<path class="b" d="M434 782A52 52 0 0 1 483 753"/>
<path class="b" d="M434 782A113 113 0 0 1 315 747"/>
<path class="b" d="M434 782A236 236 0 0 1 172 742"/>
<path class="b" d="M434 782A163 163 0 0 1 347 625"/>
<path class="b" d="M434 782A270 270 0 0 1 198 577"/>
<path class="b" d="M434 782A264 264 0 0 1 134 808"/>
<path class="b" d="M434 782A252 252 0 0 1 275 550"/>
<path class="b" d="M515 1158A347 347 0 0 1 434 782"/>
<path class="b" d="M378 982A189 189 0 0 1 434 782"/>
<path class="b" d="M483 753A159 159 0 0 1 347 625"/>
<path class="b" d="M483 753A246 246 0 0 1 275 550"/>
<path class="b" d="M483 753A143 143 0 0 1 315 747"/>
<path class="b" d="M483 753A302 302 0 0 1 198 577"/>
<path class="b" d="M515 1158A355 355 0 0 1 483 753"/>
<path class="b" d="M492 1103A298 298 0 0 1 483 753"/>
<path class="p" d="M347 625A143 143 0 0 1 198 577"/>
<path class="p s2" d="M347 625A89 89 0 0 1 275 550"/>
<path class="p" d="M315 747A115 115 0 0 1 347 625"/>
<path class="p" d="M172 742A189 189 0 0 1 347 625"/>
<path class="p" d="M134 808A243 243 0 0 1 347 625"/>
<path class="p" d="M347 625A204 204 0 0 1 575 595"/>
<path class="p" d="M347 625A139 139 0 0 1 497 592"/>
<path class="p" d="M515 1158A510 510 0 0 1 347 625"/>
<path class="p" d="M492 1103A456 456 0 0 1 347 625"/>
<path class="p" d="M198 577A75 75 0 0 1 275 550"/>
<path class="p" d="M275 550A270 270 0 0 1 575 595"/>
<path class="p" d="M275 550A203 203 0 0 1 497 592"/>
<path class="p" d="M172 742A198 198 0 0 1 275 550"/>
<path class="p" d="M315 747A181 181 0 0 1 275 550"/>
<path class="p" d="M539 828A326 326 0 0 1 275 550"/>
<path class="l s2" d="M198 577A259 259 0 0 1 497 592"/>
<path class="l" d="M198 577A326 326 0 0 1 575 595"/>
<path class="l" d="M172 742A149 149 0 0 1 198 577"/>
<path class="l" d="M315 747A184 184 0 0 1 198 577"/>
<path class="l" d="M200 785A177 177 0 0 1 198 577"/>
<path class="l" d="M134 808A218 218 0 0 1 198 577"/>
<path class="l" d="M141 782A194 194 0 0 1 198 577"/>
<path class="l" d="M274 825A236 236 0 0 1 198 577"/>
<path class="l" d="M492 1103A547 547 0 0 1 198 577"/>
<path class="l" d="M284 1053A434 434 0 0 1 198 577"/>
<path class="l" d="M378 982A405 405 0 0 1 198 577"/>
<path class="g" d="M497 592A66 66 0 0 1 575 595"/>
<path class="g" d="M573 922A278 278 0 0 1 575 595"/>
<path class="g" d="M539 828A210 210 0 0 1 575 595"/>
<path class="g" d="M483 753A166 166 0 0 1 575 595"/>
<path class="g" d="M483 753A142 142 0 0 1 497 592"/>
<path class="g" d="M539 828A215 215 0 0 1 497 592"/>
<path class="g" d="M575 595A196 196 0 0 1 785 645"/>
<path class="g" d="M315 747A207 207 0 0 1 497 592"/>
<path class="c" d="M134 808A69 69 0 0 1 172 742"/>
<path class="c" d="M315 747A122 122 0 0 1 172 742"/>
<path class="c" d="M141 782A44 44 0 0 1 172 742"/>
<path class="c" d="M200 785A46 46 0 0 1 172 742"/>
<path class="c" d="M274 825A115 115 0 0 1 172 742"/>
<path class="c" d="M134 808A174 174 0 0 1 315 747"/>
<path class="c" d="M134 808A64 64 0 0 1 200 785"/>
<path class="c" d="M274 825A125 125 0 0 1 134 808"/>
<path class="c" d="M515 1158A443 443 0 0 1 134 808"/>
<path class="c" d="M284 1053A259 259 0 0 1 134 808"/>
<path class="c" d="M492 1103A405 405 0 0 1 134 808"/>
<path class="g" d="M315 747A160 160 0 0 1 141 782"/>
<path class="g" d="M515 1158A447 447 0 0 1 141 782"/>
<path class="l" d="M200 785A110 110 0 0 1 315 747"/>
<path class="l" d="M274 825A77 77 0 0 1 200 785"/>
<path class="l" d="M284 1053A257 257 0 0 1 200 785"/>
<path class="c" d="M274 825A80 80 0 0 1 315 747"/>
<path class="c" d="M284 1053A194 194 0 0 1 274 825"/>
<path class="c" d="M378 982A169 169 0 0 1 274 825"/>
<path class="t" d="M378 982A221 221 0 0 1 315 747"/>
<path class="t" d="M284 1053A270 270 0 0 1 315 747"/>
<path class="t" d="M515 1158A417 417 0 0 1 315 747"/>
<path class="c s2" d="M378 982A104 104 0 0 1 284 1053"/>
<path class="c" d="M492 1103A142 142 0 0 1 378 982"/>
<path class="c" d="M515 1158A196 196 0 0 1 378 982"/>
<path class="c" d="M528 1040A147 147 0 0 1 378 982"/>
<path class="c" d="M394 1077A86 86 0 0 1 378 982"/>
<path class="g" d="M492 1103A194 194 0 0 1 284 1053"/>
<path class="g" d="M515 1158A232 232 0 0 1 284 1053"/>
<path class="g" d="M394 1077A102 102 0 0 1 284 1053"/>
<path class="g" d="M528 1040A212 212 0 0 1 284 1053"/>
<path class="y" d="M492 1103A92 92 0 0 1 394 1077"/>
<path class="y" d="M515 1158A130 130 0 0 1 394 1077"/>
<path class="y" d="M528 1040A127 127 0 0 1 394 1077"/>
<path class="l" d="M492 1103A66 66 0 0 1 418 1093"/>
<path class="l" d="M528 1040A111 111 0 0 1 418 1093"/>
<path class="l" d="M418 1093A266 266 0 0 1 539 828"/>
<path class="g s2" d="M515 1158A54 54 0 0 1 492 1103"/>
<path class="g s2" d="M528 1040A65 65 0 0 1 492 1103"/>
<path class="g" d="M492 1103A132 132 0 0 1 510 955"/>
<path class="b" d="M515 1158A105 105 0 0 1 528 1040"/>
<path class="b" d="M515 1158A173 173 0 0 1 510 955"/>
<path class="g" d="M528 1040A78 78 0 0 1 510 955"/>
<path class="b" d="M713 768A399 399 0 0 1 515 1158"/>
<path class="c" d="M713 768A201 201 0 0 1 483 753"/>
<path class="c" d="M713 768A242 242 0 0 1 434 782"/>
<path class="c" d="M785 645A129 129 0 0 1 713 768"/>
<path class="c" d="M713 768A273 273 0 0 1 414 823"/>
<path class="p" d="M547 890A139 139 0 0 1 483 753"/>
<path class="p" d="M547 890A53 53 0 0 1 539 828"/>
<path class="p" d="M547 890A133 133 0 0 1 434 782"/>
<path class="p" d="M547 890A293 293 0 0 1 347 625"/>
<path class="p" d="M492 1103A200 200 0 0 1 547 890"/>
<path class="p" d="M515 1158A239 239 0 0 1 547 890"/>
<path class="p" d="M713 768A183 183 0 0 1 547 890"/>
<path class="g" d="M510 955A122 122 0 0 1 378 982"/>
<path class="b" d="M785 645A308 308 0 0 1 573 922"/>
<path class="b" d="M785 645A357 357 0 0 1 753 1052"/>
<path class="b" d="M785 645A293 293 0 0 1 483 753"/>
<path class="b" d="M347 625A379 379 0 0 1 785 645"/>
<path class="b" d="M838 700A328 328 0 0 1 753 1052"/>
<path class="b" d="M838 700A362 362 0 0 1 928 1090"/>
<path class="g" d="M863 610A286 286 0 0 1 1157 716"/>
<path class="g" d="M863 610A268 268 0 0 1 1154 549"/>
<path class="g" d="M661 508A207 207 0 0 1 863 610"/>
<path class="l" d="M1052 968A117 117 0 0 1 1116 1080"/>
<path class="l" d="M1229 1022A169 169 0 0 1 1052 968"/>
<path class="b" d="M661 508A159 159 0 0 1 785 645"/>
<path class="b" d="M707 398A236 236 0 0 1 785 645"/>
<path class="b s2" d="M780 422A190 190 0 0 1 785 645"/>
<path class="b" d="M455 450A347 347 0 0 1 785 645"/>
<path class="b" d="M583 320A345 345 0 0 1 785 645"/>
<path class="b" d="M497 592A263 263 0 0 1 785 645"/>
<path class="b" d="M785 645A271 271 0 0 1 539 828"/>
<path class="b" d="M785 645A345 345 0 0 1 434 782"/>
<path class="g" d="M575 595A250 250 0 0 1 863 610"/>
<path class="g" d="M455 450A401 401 0 0 1 863 610"/>
<path class="g" d="M707 398A233 233 0 0 1 863 610"/>
<path class="g" d="M583 320A345 345 0 0 1 863 610"/>
<path class="g" d="M863 610A364 364 0 0 1 573 922"/>
<path class="g" d="M863 610A349 349 0 0 1 539 828"/>
<path class="g" d="M863 610A371 371 0 0 1 483 753"/>
<path class="c" d="M713 768A194 194 0 0 1 575 595"/>
<path class="c" d="M713 768A358 358 0 0 1 455 450"/>
<path class="c" d="M838 537A239 239 0 0 1 713 768"/>
<path class="c" d="M713 768A425 425 0 0 1 583 320"/>
<path class="y" d="M872 735A300 300 0 0 1 575 595"/>
<path class="y" d="M780 422A298 298 0 0 1 872 735"/>
<path class="y" d="M707 398A343 343 0 0 1 872 735"/>
<path class="y" d="M455 450A451 451 0 0 1 872 735"/>
<path class="b" d="M661 508A224 224 0 0 1 838 700"/>
<path class="b" d="M780 422A256 256 0 0 1 838 700"/>
<path class="b" d="M575 595A259 259 0 0 1 838 700"/>
<path class="g" d="M575 595A243 243 0 0 1 838 537"/>
<path class="g" d="M497 592A309 309 0 0 1 838 537"/>
<path class="g" d="M575 595A213 213 0 0 1 707 398"/>
<path class="b" d="M483 753A375 375 0 0 1 838 537"/>
<path class="b" d="M434 782A427 427 0 0 1 838 537"/>
<path class="p" d="M347 625A447 447 0 0 1 838 537"/>
<path class="t" d="M414 823A457 457 0 0 1 838 537"/>
<path class="t" d="M315 747A516 516 0 0 1 838 537"/>
<path class="t" d="M414 823A465 465 0 0 1 780 422"/>
<path class="t" d="M315 747A452 452 0 0 1 707 398"/>
<path class="l" d="M198 577A558 558 0 0 1 838 537"/>
<path class="t" d="M573 922A306 306 0 0 1 497 592"/>
<path class="p" d="M878 477A482 482 0 0 1 573 922"/>
<path class="p" d="M878 477A414 414 0 0 1 539 828"/>
<path class="y" d="M962 778A391 391 0 0 1 575 595"/>
<path class="y" d="M455 450A542 542 0 0 1 962 778"/>
<path class="t" d="M998 849A446 446 0 0 1 575 595"/>
</g>
<g id="nodes" class="n">
<g id="n-region"><circle cx="873" cy="408" r="6" fill="#7b6cc8"/><text x="873" y="413" font-size="21.5">region</text></g>
<g id="n-mathematical-model"><circle cx="878" cy="477" r="6" fill="#7a6bc8"/><text x="876" y="482" font-size="21.3">mathematical model</text></g>
<g id="n-feasibility"><circle cx="872" cy="735" r="6" fill="#b8dc38"/><text x="869" y="742" font-size="21">feasibility</text></g>
<g id="n-unlabeled-g3"><circle cx="141" cy="782" r="6" fill="#4cc493"/></g>
<g id="n-economy"><circle cx="998" cy="849" r="6" fill="#27a08e"/><text x="999" y="853" font-size="21.5">economy</text></g>
<g id="n-ground-source"><circle cx="284" cy="1053" r="6" fill="#3cb892"/><text x="281" y="1058" font-size="20.8">ground source</text></g>
<g id="n-unlabeled-g7"><circle cx="418" cy="1093" r="6" fill="#8ad555"/></g>
<g id="n-sgshp"><circle cx="1229" cy="1022" r="6" fill="#ece22a"/><text x="1228" y="1027" font-size="20">sgshp</text></g>
<g id="n-integrated-system"><circle cx="462" cy="275" r="7" fill="#f2e52a"/><text x="457" y="279" font-size="21.1">integrated system</text></g>
<g id="n-exergy-analysis"><circle cx="97" cy="352" r="7" fill="#3b78b2"/><text x="95" y="357" font-size="21">exergy analysis</text></g>
<g id="n-simulation-result"><circle cx="1135" cy="364" r="7" fill="#2e9ea4"/><text x="1133" y="369" font-size="21.2">simulation result</text></g>
<g id="n-unlabeled-b2"><circle cx="838" cy="700" r="7" fill="#5b84bb"/></g>
<g id="n-unlabeled-y1"><circle cx="1182" cy="772" r="7" fill="#f4e52a"/></g>
<g id="n-unlabeled-g6"><circle cx="1052" cy="968" r="7" fill="#6bcd5c"/></g>
<g id="n-air-source-heat-pump"><circle cx="378" cy="982" r="7" fill="#3a96aa"/><text x="373" y="987" font-size="21">air source heat pump</text></g>
<g id="n-unlabeled-y2"><circle cx="394" cy="1077" r="7" fill="#cfe52e"/></g>
<g id="n-system-performance"><circle cx="962" cy="778" r="8" fill="#cade30"/><text x="965" y="784" font-size="22.7">system performance</text></g>
<g id="n-unlabeled-g4"><circle cx="200" cy="785" r="8" fill="#7ed554"/></g>
<g id="n-country"><circle cx="134" cy="808" r="8" fill="#3794aa"/><text x="132" y="812" font-size="21.1">country</text></g>
<g id="n-unlabeled-t1"><circle cx="274" cy="825" r="8" fill="#3b97b3"/></g>
<g id="n-cold-region"><circle cx="1320" cy="868" r="8" fill="#c2db30"/><text x="1318" y="871" font-size="21">cold region</text></g>
<g id="n-ground-source-heat"><circle cx="858" cy="893" r="8" fill="#3dbd84"/><text x="860" y="898" font-size="22.6">ground source heat</text></g>
<g id="n-energy-performance"><circle cx="528" cy="1040" r="8" fill="#43bf85"/><text x="529" y="1046" font-size="22.6">energy performance</text></g>
<g id="n-soil-temperature"><circle cx="1336" cy="727" r="9" fill="#ede428"/><text x="1335" y="731" font-size="21.1">soil temperature</text></g>
<g id="n-natural-gas"><circle cx="172" cy="742" r="9" fill="#3c8db0"/><text x="174" y="747" font-size="22.5">natural gas</text></g>
<g id="n-unlabeled-x1"><circle cx="142" cy="417" r="9" fill="#34a8a2"/></g>
<g id="n-unlabeled-pu2"><circle cx="275" cy="550" r="9" fill="#7e73c6"/></g>
<g id="n-unlabeled-g5"><circle cx="510" cy="955" r="9" fill="#42bf84"/></g>
<g id="n-methodology"><circle cx="928" cy="1090" r="9" fill="#6a7cc2"/><text x="928" y="1096" font-size="21.2">methodology</text></g>
<g id="n-cold-climate"><circle cx="515" cy="1158" r="9" fill="#4a82ba"/><text x="514" y="1161" font-size="22.8">cold climate</text></g>
<g id="n-imbalance"><circle cx="1007" cy="230" r="10" fill="#2aa890"/><text x="1008" y="236" font-size="22.6">imbalance</text></g>
<g id="n-hybrid-system"><circle cx="713" cy="768" r="10" fill="#3a9aa6"/><text x="713" y="776" font-size="22.6">hybrid system</text></g>
<g id="n-sagshp"><circle cx="1116" cy="1080" r="10" fill="#e6d926"/><text x="1116" y="1084" font-size="21.9">sagshp</text></g>
<g id="n-operation-mode"><circle cx="1127" cy="54" r="11" fill="#2db99a"/><text x="1124" y="61" font-size="24.2">operation mode</text></g>
<g id="n-winter"><circle cx="670" cy="205" r="11" fill="#3ab3a5"/><text x="670" y="214" font-size="24">winter</text></g>
<g id="n-geothermal-energy"><circle cx="460" cy="238" r="11" fill="#4d85ba"/><text x="462" y="245" font-size="22.5">geothermal energy</text></g>
<g id="n-unlabeled-pu1"><circle cx="1021" cy="529" r="11" fill="#7c6dc9"/></g>
<g id="n-office-building"><circle cx="1154" cy="549" r="11" fill="#74d16a"/><text x="1153" y="553" font-size="21.6">office building</text></g>
<g id="n-assessment"><circle cx="315" cy="747" r="11" fill="#33ad94"/><text x="313" y="751" font-size="24">assessment</text></g>
<g id="n-integration"><circle cx="483" cy="753" r="11" fill="#6680c2"/><text x="544" y="742" font-size="20.8">integration</text></g>
<g id="n-potential"><circle cx="414" cy="823" r="11" fill="#34b08e"/><text x="412" y="828" font-size="24.3">potential</text></g>
<g id="n-sagshp-system"><circle cx="1157" cy="967" r="11" fill="#e8dc22"/><text x="1158" y="974" font-size="22.5">sagshp system</text></g>
<g id="n-summer"><circle cx="583" cy="320" r="12" fill="#3aab9f"/><text x="582" y="328" font-size="24.3">summer</text></g>
<g id="n-exergy-efficiency"><circle cx="245" cy="400" r="12" fill="#4688bb"/><text x="246" y="409" font-size="24.3">exergy efficiency</text></g>
<g id="n-unlabeled-g1"><circle cx="497" cy="592" r="12" fill="#52c97e"/></g>
<g id="n-unlabeled-pu3"><circle cx="547" cy="890" r="12" fill="#7a6cc6"/></g>
<g id="n-power"><circle cx="312" cy="467" r="13" fill="#3b8cb5"/><text x="311" y="473" font-size="23.8">power</text></g>
<g id="n-unlabeled-b1"><circle cx="785" cy="645" r="14" fill="#5a83bb"/></g>
<g id="n-impact"><circle cx="434" cy="780" r="14" fill="#3f7fae"/><text x="432" y="784" font-size="24">impact</text></g>
<g id="n-solar-thermal-collector"><circle cx="492" cy="1101" r="14" fill="#3fbf85"/><text x="487" y="1106" font-size="24">solar thermal collector</text></g>
<g id="n-soil"><circle cx="1050" cy="402" r="15" fill="#4cc77a"/><text x="1051" y="410" font-size="25.6">soil</text></g>
<g id="n-climate"><circle cx="539" cy="828" r="15" fill="#2fa395"/><text x="540" y="837" font-size="25.6">climate</text></g>
<g id="n-development"><circle cx="347" cy="625" r="15" fill="#6b70c0"/><text x="346" y="632" font-size="24.4">development</text></g>
<g id="n-unlabeled-t2"><circle cx="837" cy="1030" r="15" fill="#35b691"/></g>
<g id="n-concept"><circle cx="753" cy="1052" r="15" fill="#5d70b6"/><text x="755" y="1061" font-size="25.7">concept</text></g>
<g id="n-unlabeled-g2"><circle cx="863" cy="610" r="16" fill="#4cc47c"/></g>
<g id="n-performance"><circle cx="918" cy="603" r="54" fill="#3cc088"/><text x="920" y="618" font-size="45.3">performance</text></g>
<g id="n-utilization"><circle cx="455" cy="449" r="17" fill="#3a8e9f"/><text x="452" y="456" font-size="27">utilization</text></g>
<g id="n-renewable-energy"><circle cx="198" cy="577" r="18" fill="#6ccf5e"/><text x="198" y="586" font-size="27">renewable energy</text></g>
<g id="n-research"><circle cx="575" cy="595" r="18" fill="#48c47e"/><text x="573" y="605" font-size="26.8">research</text></g>
<g id="n-configuration"><circle cx="818" cy="1137" r="18" fill="#f0e424"/><text x="818" y="1147" font-size="27">configuration</text></g>
<g id="n-gshp-system"><circle cx="838" cy="537" r="23" fill="#2aa296"/><text x="837" y="543" font-size="28">gshp system</text></g>
<g id="n-unlabeled-bb"><circle cx="707" cy="398" r="24" fill="#4f7fb2"/></g>
<g id="n-cop"><circle cx="1157" cy="716" r="26" fill="#219e94"/><text x="1155" y="725" font-size="30">cop</text></g>
<g id="n-unlabeled-yg"><circle cx="453" cy="885" r="27" fill="#9bd944"/></g>
<g id="n-emission"><circle cx="573" cy="922" r="27" fill="#2aa395"/><text x="571" y="931" font-size="29.7">emission</text></g>
<g id="n-ground"><circle cx="780" cy="422" r="30" fill="#4877ab"/><text x="777" y="429" font-size="31">ground</text></g>
<g id="n-efficiency"><circle cx="661" cy="508" r="38" fill="#5ccf78"/><text x="661" y="519" font-size="35.8">efficiency</text></g>
<g id="n-source-heat-pump"><circle cx="647" cy="679" r="56" fill="#2a9f9a"/><text x="649" y="694" font-size="45.8">source heat pump</text></g>
</g>
</svg>
